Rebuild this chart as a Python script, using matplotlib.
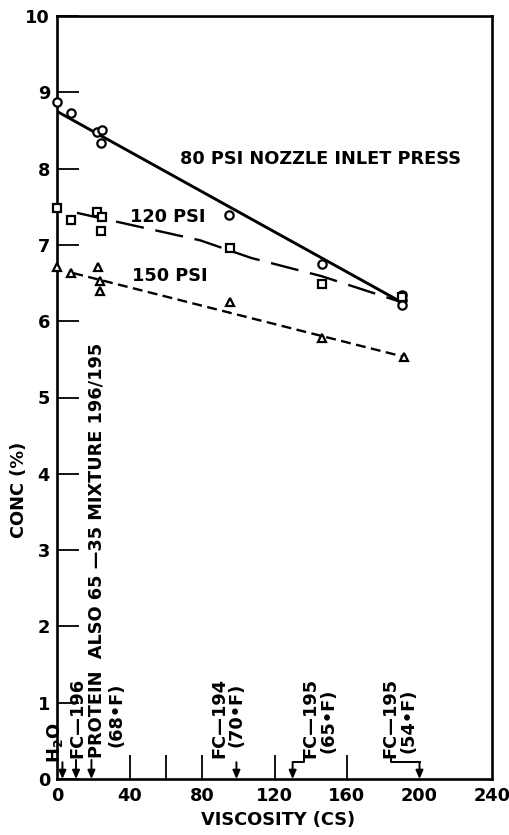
import matplotlib.pyplot as plt

# viscosity (cs) vs concentration (%) at three nozzle inlet pressures
visc_80 = [0, 7.7, 22, 25, 24, 95, 146, 190.6, 190.6, 190.6]
conc_80 = [8.87, 8.73, 8.48, 8.50, 8.34, 7.39, 6.75, 6.34, 6.28, 6.21]
fit_visc_80 = [0, 190]
fit_conc_80 = [8.75, 6.25]

visc_120 = [0, 7.6, 22, 25, 24, 95.6, 146, 190.6]
conc_120 = [7.49, 7.33, 7.43, 7.37, 7.18, 6.96, 6.49, 6.32]
fit_visc_120 = [11, 79, 107, 146, 190]
fit_conc_120 = [7.42, 7.06, 6.83, 6.59, 6.25]

visc_150 = [0, 7.7, 22.7, 23.8, 23.8, 95.6, 146, 191.7]
conc_150 = [6.71, 6.63, 6.71, 6.53, 6.40, 6.25, 5.78, 5.53]
fit_visc_150 = [9, 192]
fit_conc_150 = [6.63, 5.53]

fluid_labels = ["FC\u2014196", "FC\u2014194", "FC\u2014195", "FC\u2014195"]
fluid_temps = ["(70\u2022F)", "(65\u2022F)", "(54\u2022F)"]

plt.rcParams['font.family'] = ['DejaVu Sans']
plt.rcParams['font.weight'] = 'bold'
plt.rcParams['axes.labelweight'] = 'bold'

fig = plt.figure(figsize=(5.09, 8.35), dpi=100)
ax = fig.add_axes([57 / 509, 56 / 835, 435 / 509, 763 / 835])

fs = 12.8
lw = 1.7

ax.plot(fit_visc_80, fit_conc_80, color='black', lw=2.1, solid_capstyle='round')
l120, = ax.plot(fit_visc_120, fit_conc_120, color='black', lw=lw)
l120.set_dashes((12, 5))
l150, = ax.plot(fit_visc_150, fit_conc_150, color='black', lw=lw)
l150.set_dashes((4.2, 2.3))

mk = dict(ls='none', mfc='white', mec='black', mew=1.6, ms=6, clip_on=False, zorder=3)
ax.plot(visc_80, conc_80, marker='o', **mk)
ax.plot(visc_120, conc_120, marker='s', **mk)
ax.plot(visc_150, conc_150, marker='^', **mk)

ax.text(68, 8.13, "80 PSI NOZZLE INLET PRESS", fontsize=fs, va='center')
ax.text(40.5, 7.37, "120 PSI", fontsize=fs, va='center')
ax.text(41.5, 6.59, "150 PSI", fontsize=fs, va='center')

ax.set_xlim(0, 240)
ax.set_ylim(0, 10)
ax.set_xticks(range(0, 241, 40))
ax.set_yticks(range(0, 11))
ax.set_xticks([40, 60, 80, 120, 160], minor=True)
ax.xaxis.remove_overlapping_locs = False
ax.tick_params(axis='x', which='major', length=0, pad=6, labelsize=fs)
ax.tick_params(axis='x', which='minor', direction='in', length=17, width=1.3)
ax.tick_params(axis='y', which='major', direction='in', length=16, width=1.3,
               pad=5, labelsize=fs)
for s in ax.spines.values():
    s.set_linewidth(1.9)

ax.set_xlabel("VISCOSITY (CS)", fontsize=fs)
ax.xaxis.set_label_coords(0.508, -0.042)
ax.set_ylabel("CONC (%)", fontsize=fs)
ax.yaxis.set_label_coords(-0.066, 0.379)

# vertical fluid labels sitting on the viscosity axis
vt = dict(rotation=90, ha='center', va='bottom', fontsize=fs, clip_on=False)
ax.text(-1, 0.21, r"H$_\mathbf{2}$O", **vt)
ax.text(11, 0.28, fluid_labels[0], **vt)
ax.text(21.8, 0.28, "PROTEIN  ALSO 65 \u201435 MIXTURE 196/195", **vt)
ax.text(32.9, 0.42, "(68\u2022F)", **vt)
ax.text(89.8, 0.28, fluid_labels[1], **vt)
ax.text(99.2, 0.42, fluid_temps[0], **vt)
ax.text(140, 0.28, fluid_labels[2], **vt)
ax.text(150, 0.34, fluid_temps[1], **vt)
ax.text(184, 0.28, fluid_labels[3], **vt)
ax.text(194, 0.34, fluid_temps[2], **vt)


def leader(xs, ys):
    if len(xs) > 2:
        ax.plot(xs[:-1], ys[:-1], color='black', lw=1.4, clip_on=False)
    ax.annotate("", xy=(xs[-1], ys[-1]), xytext=(xs[-2], ys[-2]),
                arrowprops=dict(arrowstyle='-|>,head_length=0.5,head_width=0.22',
                                color='black', lw=1.4, shrinkA=0, shrinkB=0))


leader([3, 3], [0.22, 0])
leader([10.5, 10.5], [0.25, 0])
leader([19, 19], [0.25, 0])
leader([99, 99], [0.22, 0])
leader([136, 136, 130, 130], [0.28, 0.22, 0.22, 0])
leader([184, 184, 200, 200], [0.28, 0.22, 0.22, 0])

fig.savefig("out.png", dpi=100)
